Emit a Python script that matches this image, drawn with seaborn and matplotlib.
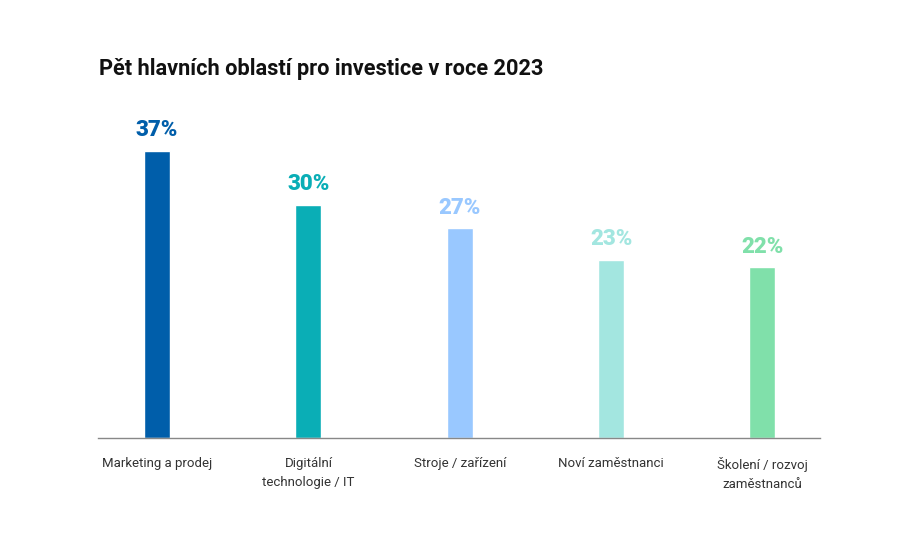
import matplotlib.pyplot as plt
import seaborn as sns
import pandas as pd

# data
categories = ['Marketing a prodej', 'Digitální\ntechnologie / IT', 'Stroje / zařízení',
              'Noví zaměstnanci', 'Školení / rozvoj\nzaměstnanců']
values = [37, 30, 27, 23, 22]
colors = ['#005eaa', '#0aaeb6', '#99c8ff', '#a3e6e0', '#80e0aa']

df = pd.DataFrame({'oblast': categories, 'podil': values})

sns.set_style('white')
plt.rcParams['font.family'] = ['Roboto', 'DejaVu Sans']

fig = plt.figure(figsize=(9, 5.4), dpi=100)
ax = fig.add_axes([98 / 900, 102 / 540, 722 / 900, (438 - 127.6) / 540])

sns.barplot(data=df, x='oblast', y='podil', hue='oblast', palette=colors,
            width=0.172, legend=False, ax=ax, saturation=1)

ax.set_ylim(0, 40)
ax.set_xlim(-0.39, 4.38)

# value labels above the bars
for i, v in enumerate(values):
    ax.annotate(f'{v}%', (i, v), xytext=(0, 7), textcoords='offset points',
                ha='center', va='bottom', fontsize=16, fontweight='heavy',
                color=colors[i], annotation_clip=False)

ax.set_xlabel('')
ax.set_ylabel('')
ax.set_yticks([])
ax.tick_params(axis='x', length=0, pad=14, labelsize=9.5, labelcolor='#333333')
for lab in ax.get_xticklabels():
    lab.set_linespacing(1.6)
    lab.set_verticalalignment('top')

for s in ['top', 'right', 'left']:
    ax.spines[s].set_visible(False)
ax.spines['bottom'].set_color('#888888')
ax.spines['bottom'].set_linewidth(1)

fig.text(99 / 900, 1 - 69 / 540, 'Pět hlavních oblastí pro investice v roce 2023',
         fontsize=15.7, fontweight='bold', color='#111111', va='center', ha='left')

fig.savefig('out.png', dpi=100, facecolor='white')
